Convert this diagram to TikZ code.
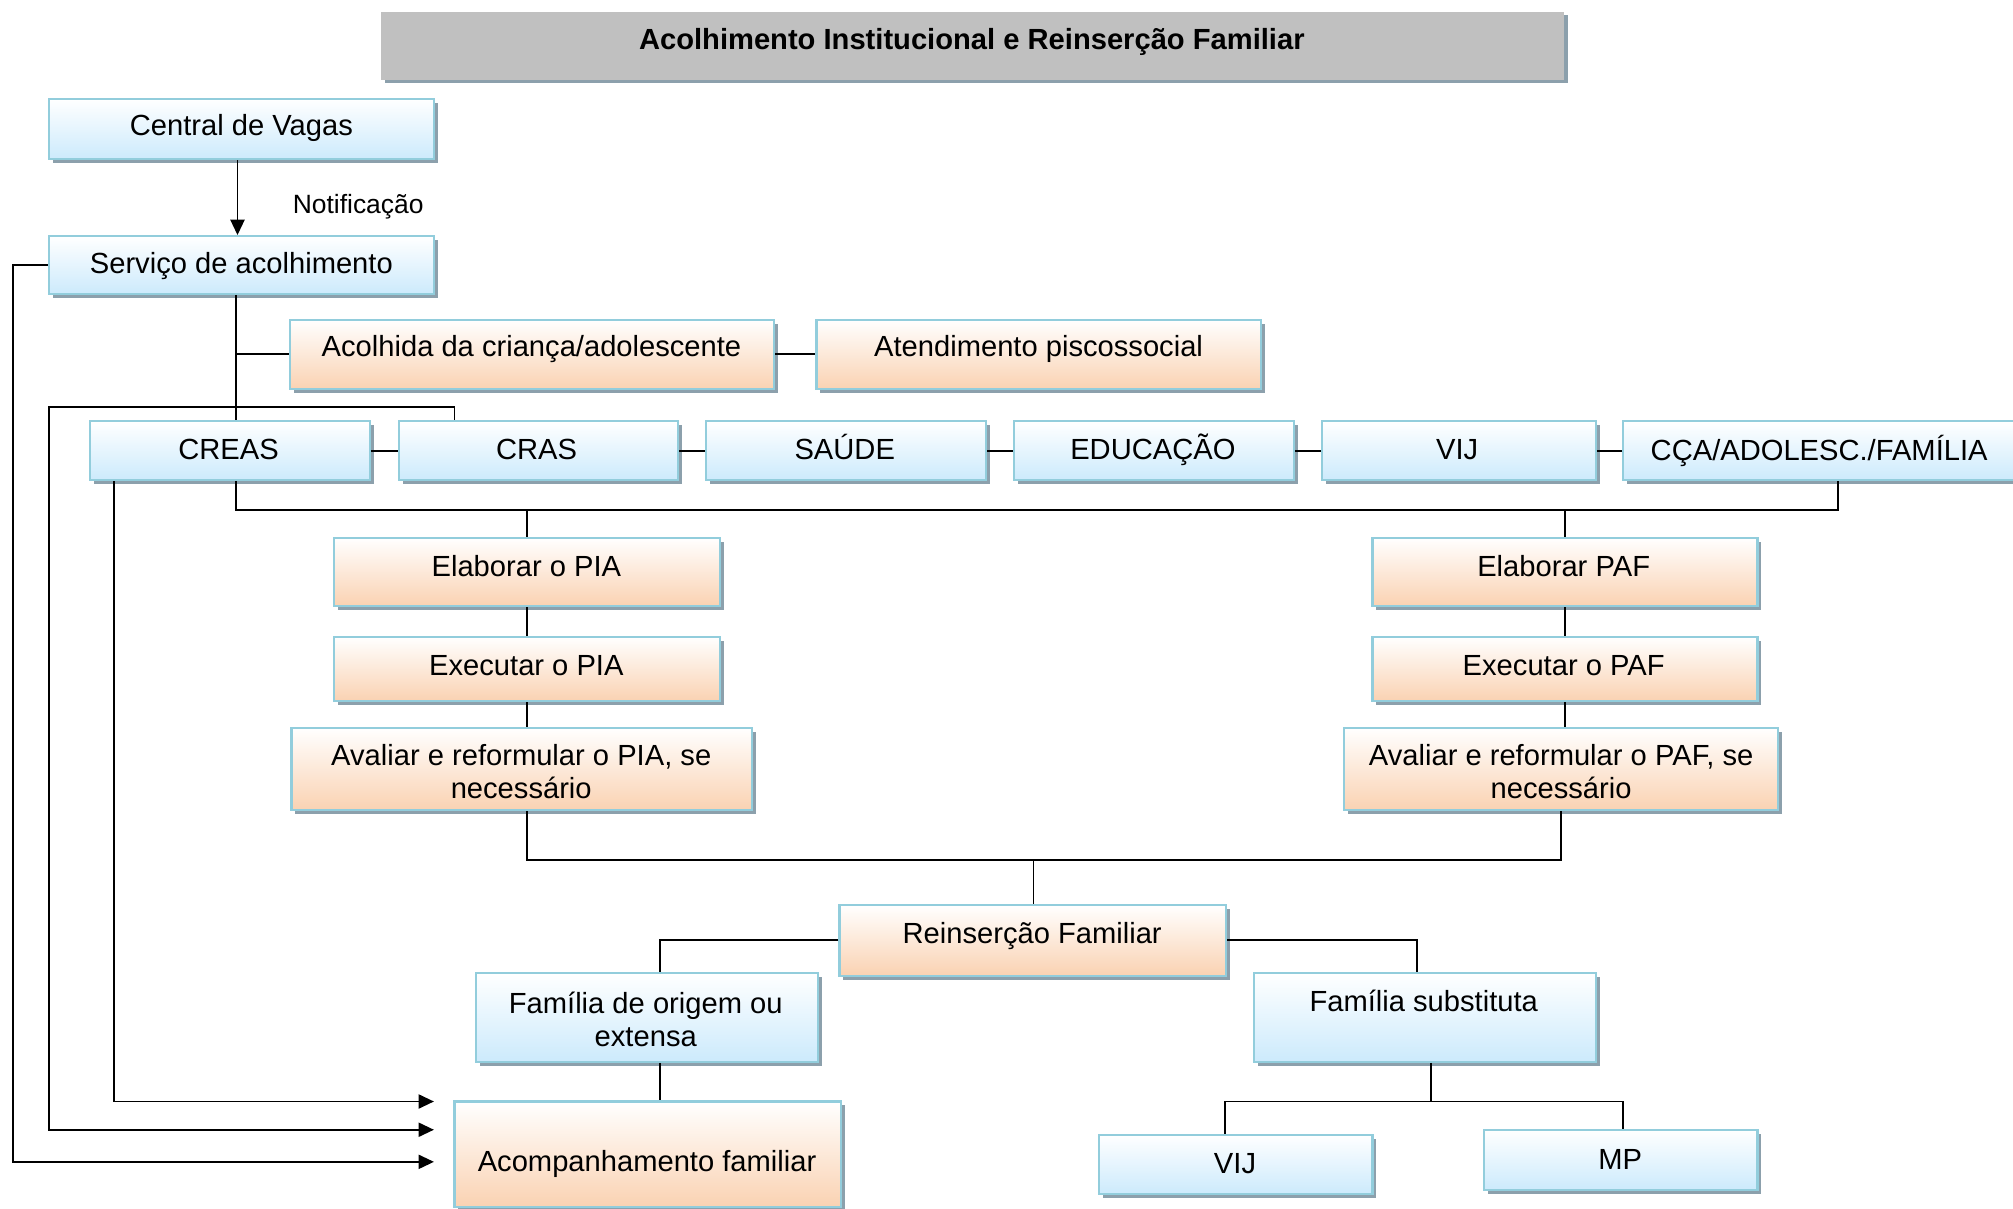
\documentclass[tikz,border=0pt]{standalone}
\usepackage{fontspec}
\setmainfont{Liberation Sans}
\usetikzlibrary{arrows.meta,shadows,fit,calc}
\definecolor{bdr}{RGB}{146,205,220}
\definecolor{bluebot}{RGB}{204,234,252}
\definecolor{orangebot}{RGB}{250,210,178}
\definecolor{shad}{RGB}{140,160,172}
\definecolor{titlegray}{RGB}{192,192,192}
\tikzset{
 shadowed/.style={drop shadow={shadow xshift=3pt, shadow yshift=-3pt, fill=shad, opacity=1}},
 box/.style={rectangle, draw=bdr, line width=1.8pt, inner sep=0pt, shadowed},
 bluebox/.style={box, top color=white, bottom color=bluebot},
 orangebox/.style={box, top color=white, bottom color=orangebot},
 titlebox/.style={rectangle, fill=titlegray, draw=none, inner sep=0pt, shadowed},
 txt/.style={font=\fontsize{22.7}{25.5}\selectfont, align=center, inner sep=0pt},
 txtone/.style={txt, text height=16.3pt, text depth=4.8pt},
 titletxt/.style={txtone, font=\fontsize{22.7}{25.5}\selectfont\bfseries},
 smalltxt/.style={txt, font=\fontsize{20.6}{24}\selectfont},
 line/.style={draw=black, line width=1.5pt},
 arr/.style={line, -{Triangle[length=12pt,width=11pt]}},
}
\begin{document}
\begin{tikzpicture}[x=1pt,y=-1pt]
\useasboundingbox (0,0) rectangle (1568,941);
% title
\node[titlebox, fit={(297,9)(1218,62)}] (title) {};
\node[titletxt] (titleT) at (757,33) {Acolhimento Institucional e Reinserção Familiar};
% boxes
\node[bluebox, fit={(38,77)(338,124)}] (cv) {};
\node[txtone] (cvT) at (188,100) {Central de Vagas};
\node[bluebox, fit={(38,184)(338,229)}] (serv) {};
\node[txtone] (servT) at (188,207) {Serviço de acolhimento};
\node[orangebox, fit={(226,249)(603,303)}] (acol) {};
\node[txtone] (acolT) at (414,272) {Acolhida da criança/adolescente};
\node[orangebox, fit={(636,249)(982,303)}] (aten) {};
\node[txtone] (atenT) at (809,272) {Atendimento piscossocial};
\node[bluebox, fit={(70,328)(288,374)}] (creas) {};
\node[txtone] (creasT) at (178,352.5) {CREAS};
\node[bluebox, fit={(311,328)(528,374)}] (cras) {};
\node[txtone] (crasT) at (418,352.5) {CRAS};
\node[bluebox, fit={(550,328)(768,374)}] (saude) {};
\node[txtone] (saudeT) at (658,352.5) {SAÚDE};
\node[bluebox, fit={(790,328)(1008,374)}] (educ) {};
\node[txtone] (educT) at (898,352.5) {EDUCAÇÃO};
\node[bluebox, fit={(1030,328)(1243,374)}] (vij) {};
\node[txtone] (vijT) at (1135,352.5) {VIJ};
\node[bluebox, fit={(1264,328)(1572,374)}] (cca) {};
\node[txtone] (ccaT) at (1417,353) {CÇA/ADOLESC./FAMÍLIA};
\node[orangebox, fit={(260,419)(561,472)}] (elpia) {};
\node[txtone] (elpiaT) at (410,443.5) {Elaborar o PIA};
\node[orangebox, fit={(260,496)(561,546)}] (expia) {};
\node[txtone] (expiaT) at (410,520.5) {Executar o PIA};
\node[orangebox, fit={(227,567)(586,631)}] (avpia) {};
\node[txt] (avpiaT) at (406,601) {Avaliar e reformular o PIA, se\\necessário};
\node[orangebox, fit={(1069,419)(1369,472)}] (elpaf) {};
\node[txtone] (elpafT) at (1218,443.5) {Elaborar PAF};
\node[orangebox, fit={(1069,496)(1369,546)}] (expaf) {};
\node[txtone] (expafT) at (1218,520.5) {Executar o PAF};
\node[orangebox, fit={(1047,567)(1385,631)}] (avpaf) {};
\node[txt] (avpafT) at (1216,601) {Avaliar e reformular o PAF, se\\necessário};
\node[orangebox, fit={(654,705)(955,760)}] (reins) {};
\node[txtone] (reinsT) at (804,729) {Reinserção Familiar};
\node[bluebox, fit={(371,758)(637,827)}] (fo) {};
\node[txt] (foT) at (503,794) {Família de origem ou\\extensa};
\node[bluebox, fit={(977,758)(1243,827)}] (fs) {};
\node[txtone] (fsT) at (1109,782.5) {Família substituta};
\node[orangebox, fit={(354,858)(655,940)}] (acomp) {};
\node[txtone] (acompT) at (504,907) {Acompanhamento familiar};
\node[bluebox, fit={(856,884)(1069,930)}] (vijb) {};
\node[txtone] (vijbT) at (962,908.5) {VIJ};
\node[bluebox, fit={(1156,880)(1369,927)}] (mp) {};
\node[txtone] (mpT) at (1262,905.5) {MP};
% helper coordinates
\coordinate (xN) at (185,0);
\coordinate (xA) at (184,0);
\coordinate (busL) at (184,397);
\coordinate (busR) at (1432,397);
\coordinate (bus2) at (805,670);
\coordinate (xO) at (514,0);
\coordinate (xS) at (1104,0);
\coordinate (j) at (1115,858);
\coordinate (xV) at (954,0);
\coordinate (xM) at (1264,0);
\coordinate (x89) at (89,0);
\coordinate (x354) at (354,0);
\coordinate (c38) at (38,317);
\coordinate (c10) at (10,905);
\coordinate (a1) at (338,858);
\coordinate (a2) at (338,880);
\coordinate (a3) at (338,905);
% connectors
\draw[arr] (cv.south -| xN) -- (serv.north -| xN);
\node[smalltxt] (notif) at (279,161) {Notificação};
\draw[line] (serv.south -| xA) -- (creas.north -| xA);
\draw[line] (acol.west) -- (acol.west -| xA);
\draw[line] (acol.east) -- (aten.west);
\draw[line] (creas.east) -- (cras.west);
\draw[line] (cras.east) -- (saude.west);
\draw[line] (saude.east) -- (educ.west);
\draw[line] (educ.east) -- (vij.west);
\draw[line] (vij.east) -- (cca.west);
\draw[line] (creas.south -| busL) -- (busL) -- (busR) -- (cca.south -| busR);
\draw[line] (elpia.north |- busL) -- (elpia.north);
\draw[line] (elpaf.north |- busR) -- (elpaf.north);
\draw[line] (elpia.south) -- (expia.north);
\draw[line] (expia.south) -- (avpia.north -| expia.south);
\draw[line] (elpaf.south) -- (expaf.north);
\draw[line] (expaf.south) -- (avpaf.north -| expaf.south);
\draw[line] (avpia.south -| expia.south) |- (bus2) -| (avpaf.south);
\draw[line] (bus2) -- (reins.north -| bus2);
\draw[line] (reins.west) -| (fo.north -| xO);
\draw[line] (reins.east) -| (fs.north -| xS);
\draw[line] (fo.south -| xO) -- (acomp.north -| xO);
\draw[line] (fs.south -| j) -- (j);
\draw[line] (vijb.north -| xV) |- (j) -| (mp.north -| xM);
\draw[arr] (creas.south -| x89) |- (a1);
\draw[arr] (cras.north -| x354) |- (c38) |- (a2);
\draw[arr] (serv.west) -| (c10) -- (a3);
\end{tikzpicture}
\end{document}
